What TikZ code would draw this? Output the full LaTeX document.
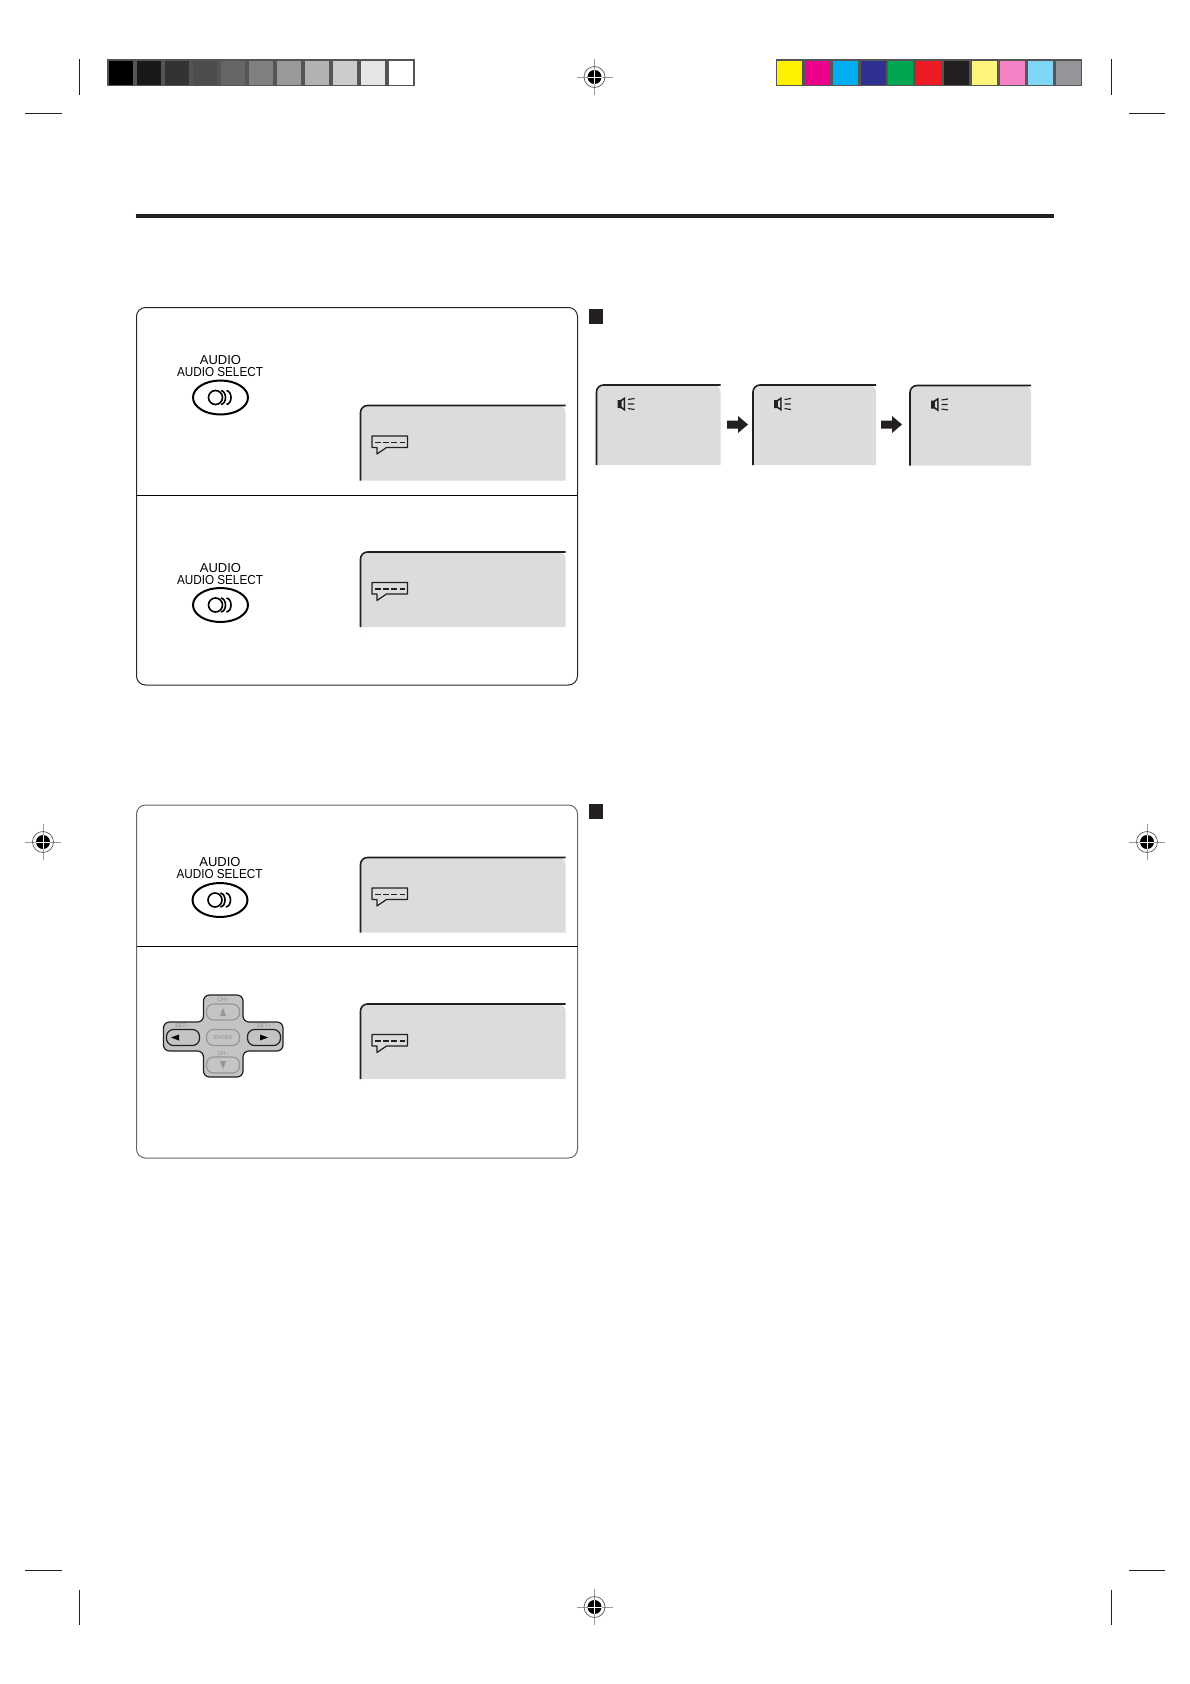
\documentclass[tikz,border=0pt]{standalone}
\usepackage{fontspec}
\setmainfont{Liberation Sans}
\usetikzlibrary{positioning,calc,shapes.geometric}
\definecolor{cFrame}{RGB}{85,85,85}
\definecolor{cScreen}{RGB}{220,220,220}
\definecolor{cInk}{RGB}{35,31,32}
\definecolor{cPad}{RGB}{196,196,196}
\definecolor{cKey}{RGB}{150,150,150}

\begin{document}
\begin{tikzpicture}[
  x=1pt, y=-1pt,
  panel/.style={draw=black!#1, rounded corners=9pt, line width=1pt},
  divider/.style={draw=black, line width=1pt},
  marker/.style={fill=cInk, minimum size=14.5pt, inner sep=0pt, outer sep=0pt},
  btnlabel/.style={font=\fontsize{13}{13}\selectfont, inner sep=0pt, text=black},
  padkey/.style={draw=#1, fill=cPad, rounded corners=7pt, line width=1.2pt,
    minimum width=33pt, minimum height=16pt, inner sep=0pt},
  padtext/.style={font=\fontsize{5.5}{6}\selectfont, text=black!45, inner sep=0pt},
  crop/.style={draw=cInk, line width=1pt},
  wide/.pic={
    \fill[cScreen, rounded corners=7pt] (0,80) -- (0,0) -- (205,0) [sharp corners] -- (205,75) -- (0,75) -- cycle;
    \draw[cInk, line width=1.6pt, rounded corners=7pt] (0,75) -- (0,0) -- (205,0);
    \draw[cInk, line width=1.2pt, line join=round] (11.5,30.5) -- (47,30.5) -- (47,42) -- (26,42) -- (16.5,48.5) -- (16.5,42) -- (11.5,42) -- cycle;
    \draw[cInk, line width=#1, dash pattern=on 5.5pt off 2.67pt] (14.5,37) -- (44.5,37);
  },
  narrow/.pic={
    \fill[cScreen, rounded corners=7pt] (0,80) -- (0,0) -- (#1,0) [sharp corners] -- (#1,80) -- cycle;
    \draw[cInk, line width=1.6pt, rounded corners=7pt] (0,80) -- (0,0) -- (#1,0);
    % speaker
    \fill[cInk] (21,15) -- (24,15) -- (28.5,12) -- (28.5,26) -- (24,23) -- (21,23) -- cycle;
    \fill[cScreen] (25,16.5) -- (27,15) -- (27,23) -- (25,21.5) -- cycle;
    \draw[cInk, line width=1.1pt] (31.5,14.5) -- (38,13.5) (31.5,19) -- (37.5,19) (31.5,23.5) -- (38,24.5);
  },
  ovalbtn/.pic={
    \draw[black, line width=2pt] (0,0) ellipse (27.5pt and 17pt);
    \draw[black, line width=1.6pt] (-5,0) circle (7pt);
    \draw[black, line width=1.6pt] (0.5,-7) .. controls (6.5,-6) and (6.5,6) .. (0.5,7);
    \draw[black, line width=1.6pt] (6,-7) .. controls (12,-6) and (12,6) .. (6,7);
  },
  regmark/.pic={
    \draw[black!40, line width=.9pt] (-18,0) -- (18,0) (0,-18) -- (0,18);
    \draw[black!65, line width=.7pt] (0,0) circle (10.5pt);
    \fill[black] (0,0) circle (7pt);
    \draw[white, line width=.9pt] (-7,0) -- (7,0) (0,-7) -- (0,7);
  },
]
\useasboundingbox (0,0) rectangle (1190,1684);

% colour bars
\fill[cFrame] (107,59) rectangle (415,86);
\foreach \n/\g in {0/100,1/90,2/80,3/70,4/60,5/50,6/40,7/30,8/20,9/10,10/0}
  \fill[black!\g] (109+28*\n,60.5) rectangle (133+28*\n,84.5);
\fill[cFrame] (775.5,59) rectangle (1082,86);
\foreach \n/\c in {0/FFF200,1/EC008C,2/00AEEF,3/2E3192,4/00A651,5/ED1C24,6/231F20,7/FFF57D,8/F682C6,9/7FD6F7,10/939598} {
  \definecolor{cPatch}{HTML}{\c}
  \fill[cPatch] (777+27.85*\n,60.5) rectangle (802+27.85*\n,84.5);
}

% crop marks
\draw[crop] (79.5,59) -- (79.5,95) (25,113) -- (62,113);
\draw[crop] (1111,59) -- (1111,95) (1129,113) -- (1165,113);
\draw[crop] (79.5,1590) -- (79.5,1625) (25,1570) -- (62,1570);
\draw[crop] (1111,1590) -- (1111,1625) (1129,1570) -- (1165,1570);
\pic at (594.5,77) {regmark};
\pic at (43,842) {regmark};
\pic at (1147,842) {regmark};
\pic at (594.5,1607) {regmark};

% heading rule
\draw[cInk, line width=4pt] (135.5,216) -- (1054,216);

% upper panel
\draw[panel=85] (136.5,307.5) rectangle (577.5,685);
\draw[divider] (136.5,495) -- (577.5,495);
\node[btnlabel] (audioa) at (220.5,360) {AUDIO};
\node[btnlabel] (selecta) at (220,372) {\scalebox{.9}[1]{AUDIO SELECT}};
\pic at (220.5,397.5) {ovalbtn};
\pic at (360.5,405.5) {wide=1.5pt};
\node[btnlabel] (audiob) at (220.5,568) {AUDIO};
\node[btnlabel] (selectb) at (220,580) {\scalebox{.9}[1]{AUDIO SELECT}};
\pic at (220.5,605) {ovalbtn};
\pic at (360.5,552) {wide=1.5pt};

% lower panel
\draw[panel=60] (136.5,805) rectangle (577.5,1158);
\draw[divider] (136.5,946.5) -- (577.5,946.5);
\node[btnlabel] (audioc) at (220,862) {AUDIO};
\node[btnlabel] (selectc) at (219.5,874.5) {\scalebox{.9}[1]{AUDIO SELECT}};
\pic at (220,900) {ovalbtn};
\pic at (360.5,857.5) {wide=.8pt};
\pic at (360.5,1004) {wide=1.5pt};

% direction pad
\draw[cInk, fill=cPad, line width=1.2pt, rounded corners=6pt]
  (203.5,995) -- (243,995) -- (243,1022) -- (283,1022) -- (283,1051) -- (243,1051)
  -- (243,1077) -- (203.5,1077) -- (203.5,1051) -- (163.5,1051) -- (163.5,1022) -- (203.5,1022) -- cycle;
\node[padkey=cKey] (keyup) at (223,1012) {};
\node[padkey=cKey] (keyenter) at (223,1037.5) {};
\node[padkey=cKey] (keydown) at (223,1065) {};
\node[padkey=cInk] (keyleft) at (183,1037.5) {};
\node[padkey=cInk] (keyright) at (264,1037.5) {};
\node[padtext] (labelup) at (223,999.5) {CH+};
\node[padtext] (labeldown) at (223,1053.5) {CH--};
\node[padtext] (labelleft) at (182,1026) {SET--};
\node[padtext] (labelright) at (264,1026) {SET+};
\node[padtext] (labelenter) at (223,1037.5) {ENTER};
\fill[cKey] (220,1016) -- (226,1016) -- (223,1008) -- cycle;
\fill[cKey] (220,1061) -- (226,1061) -- (223,1069) -- cycle;
\fill[black] (179,1034.5) -- (179,1040.5) -- (171,1037.5) -- cycle;
\fill[black] (260,1034.5) -- (260,1040.5) -- (268,1037.5) -- cycle;

% right column
\node[marker] (squarea) at (596,316.5) {};
\node[marker] (squareb) at (596,811.5) {};
\pic at (596.5,385) {narrow=124};
\pic at (753,385) {narrow=123};
\pic at (910,385.5) {narrow=121};
\fill[cInk] (727,420.5) -- (738,420.5) -- (738,416) -- (748,424.5) -- (738,433) -- (738,428.5) -- (727,428.5) -- cycle;
\fill[cInk] (881,420.5) -- (892,420.5) -- (892,416) -- (902,424.5) -- (892,433) -- (892,428.5) -- (881,428.5) -- cycle;

\end{tikzpicture}
\end{document}
